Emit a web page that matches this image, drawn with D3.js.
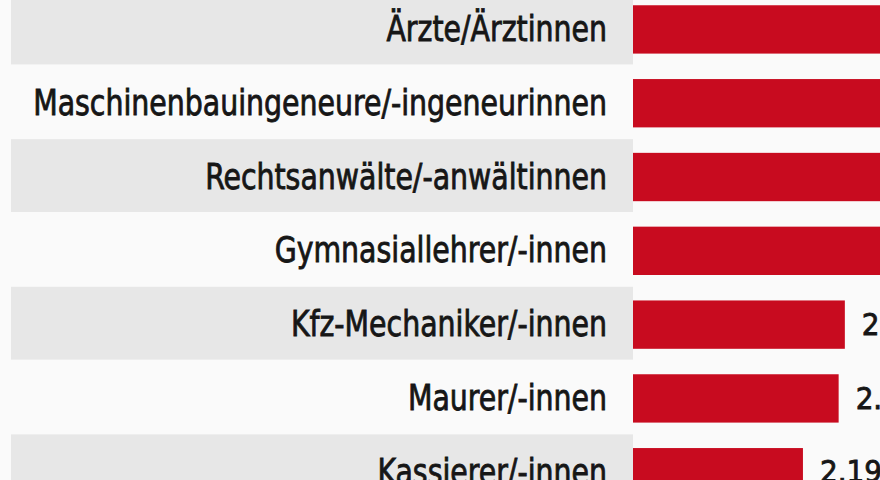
<!DOCTYPE html>
<html>
<head>
<meta charset="utf-8">
<script src="https://cdn.jsdelivr.net/npm/d3@7"></script>
<style>
  body { margin: 0; background: #fafafa; }
  svg { display: block; }
  .label, .value { font-family: "Liberation Sans Narrow", "DejaVu Sans Condensed", "Roboto Condensed", sans-serif; fill: #161616; stroke: #161616; stroke-width: 0.8px; }
</style>
</head>
<body>
<svg id="chart" width="880" height="480"></svg>
<script>
// Berufe und Werte (nur die unteren drei Werte sind im Ausschnitt lesbar)
var berufe = ["Ärzte/Ärztinnen",
              "Maschinenbauingeneure/-ingeneurinnen",
              "Rechtsanwälte/-anwältinnen",
              "Gymnasiallehrer/-innen",
              "Kfz-Mechaniker/-innen",
              "Maurer/-innen",
              "Kassierer/-innen"];
var werte = [3.90, 3.55, 3.40, 3.30, 2.73, 2.65, 2.19];
var wertLabels = ["3.90", "3.55", "3.40", "3.30", "2.73", "2.65", "2.19"];

var width = 880, height = 480;
var svg = d3.select("#chart");

var labelRight = 607, barLeft = 633;

// one row per job, 73.8px per row
var y = d3.scaleBand().domain(berufe).range([-8.4, 508.2]);
var step = y.step();
var x = d3.scaleLinear().domain([0, 1]).range([barLeft, barLeft + 77.6]);

// grey stripes behind every second label
svg.selectAll("rect.stripe")
  .data(berufe.filter(function(d, i){ return i % 2 == 0; }))
  .enter().append("rect")
  .attr("class", "stripe")
  .attr("x", 11)
  .attr("y", function(d){ return y(d); })
  .attr("width", barLeft - 11)
  .attr("height", step - 1)
  .attr("fill", "#e7e7e7");

svg.selectAll("rect.bar")
  .data(werte)
  .enter().append("rect")
  .attr("class", "bar")
  .attr("x", x(0))
  .attr("y", function(d, i){ return y(berufe[i]) + step * 0.185; })
  .attr("width", function(d){ return x(d) - x(0); })
  .attr("height", step * 0.655)
  .attr("fill", "#c80b1f");

var labels = svg.append("g");
labels.selectAll("text")
  .data(berufe)
  .enter().append("text")
  .attr("class", "label")
  .attr("x", 0)
  .attr("y", function(d){ return y(d) + step / 2; })
  .attr("dy", "0.36em")
  .attr("text-anchor", "end")
  .style("font-size", "35px")
  .text(function(d){ return d; });

// squeeze the labels horizontally so the longest one fits the label column
var longest = d3.max(labels.selectAll("text").nodes(), function(n){ return n.getComputedTextLength(); });
var sx = (labelRight - 33) / longest;
labels.attr("transform", "translate(" + labelRight + ",0) scale(" + sx + ",1)");

svg.append("g").selectAll("text")
  .data(werte)
  .enter().append("text")
  .attr("class", "value")
  .attr("x", function(d){ return x(d) + 17; })
  .attr("y", function(d, i){ return y(berufe[i]) + step / 2; })
  .attr("dy", "0.36em")
  .style("font-size", "31px")
  .text(function(d, i){ return wertLabels[i]; });
</script>
</body>
</html>
